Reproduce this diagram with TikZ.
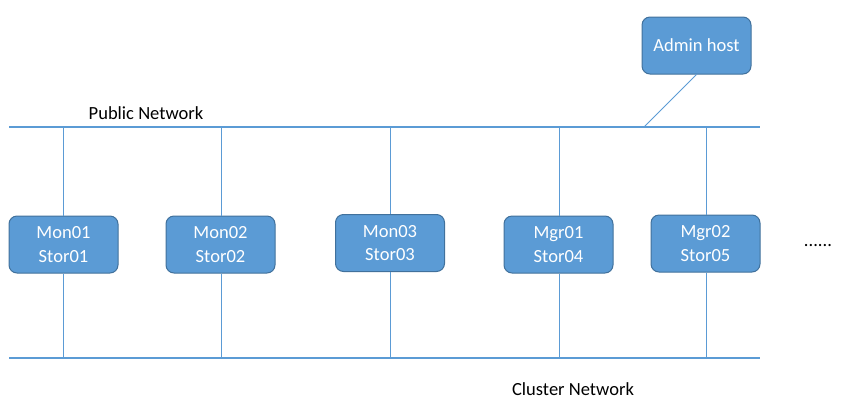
\documentclass[tikz,border=0pt]{standalone}
\usepackage{fontspec}
\setmainfont{Carlito}
\definecolor{boxfill}{HTML}{5B9BD5}
\definecolor{boxedge}{HTML}{41719C}
\definecolor{netline}{HTML}{5B9BD5}
\begin{document}
\begin{tikzpicture}[x=0.75pt,y=-0.75pt,
  hostbox/.style={draw=boxedge,fill=boxfill,rounded corners=6pt,line width=0.75pt,
    minimum width=81.75pt,minimum height=42.75pt,inner sep=0pt,text=white,
    align=center,font=\fontsize{13.9pt}{17.5pt}\selectfont},
  netbus/.style={draw=netline,line width=1.5pt},
  tap/.style={draw=netline,line width=0.75pt},
  lbl/.style={font=\fontsize{13.9pt}{17pt}\selectfont,text=black}]
\useasboundingbox (0,0) rectangle (846,408);
% networks
\coordinate (pubL) at (9,127);
\coordinate (pubR) at (760,127);
\coordinate (cluL) at (9,358);
\coordinate (cluR) at (760,358);
\draw[netbus] (pubL) -- (pubR);
\draw[netbus] (cluL) -- (cluR);
\node[lbl] (publbl) at (146,113) {Public Network};
\node[lbl] (clulbl) at (573,389) {Cluster Network};
% hosts
\node[hostbox] (h1) at (63.5,244.5) {Mon01\\Stor01};
\node[hostbox] (h2) at (220.5,244.5) {Mon02\\Stor02};
\node[hostbox] (h3) at (390,243) {Mon03\\Stor03};
\node[hostbox] (h4) at (558.5,244.5) {Mgr01\\Stor04};
\node[hostbox] (h5) at (705.5,243.5) {Mgr02\\Stor05};
\node[hostbox] (adm) at (696.5,45.5) {Admin host};
\node[lbl] (dots) at (818,246) {......};
% taps
\foreach \n/\x in {h1/63,h2/221,h3/390,h4/559,h5/706}{
  \coordinate (\n top) at (\x,127);
  \coordinate (\n bot) at (\x,358);
  \draw[tap] (\n top) -- (\n.north -| \n top);
  \draw[tap] (\n.south -| \n bot) -- (\n bot);
}
\coordinate (admtap) at (644,127);
\draw[tap] (adm.south) -- (admtap);
\end{tikzpicture}
\end{document}
